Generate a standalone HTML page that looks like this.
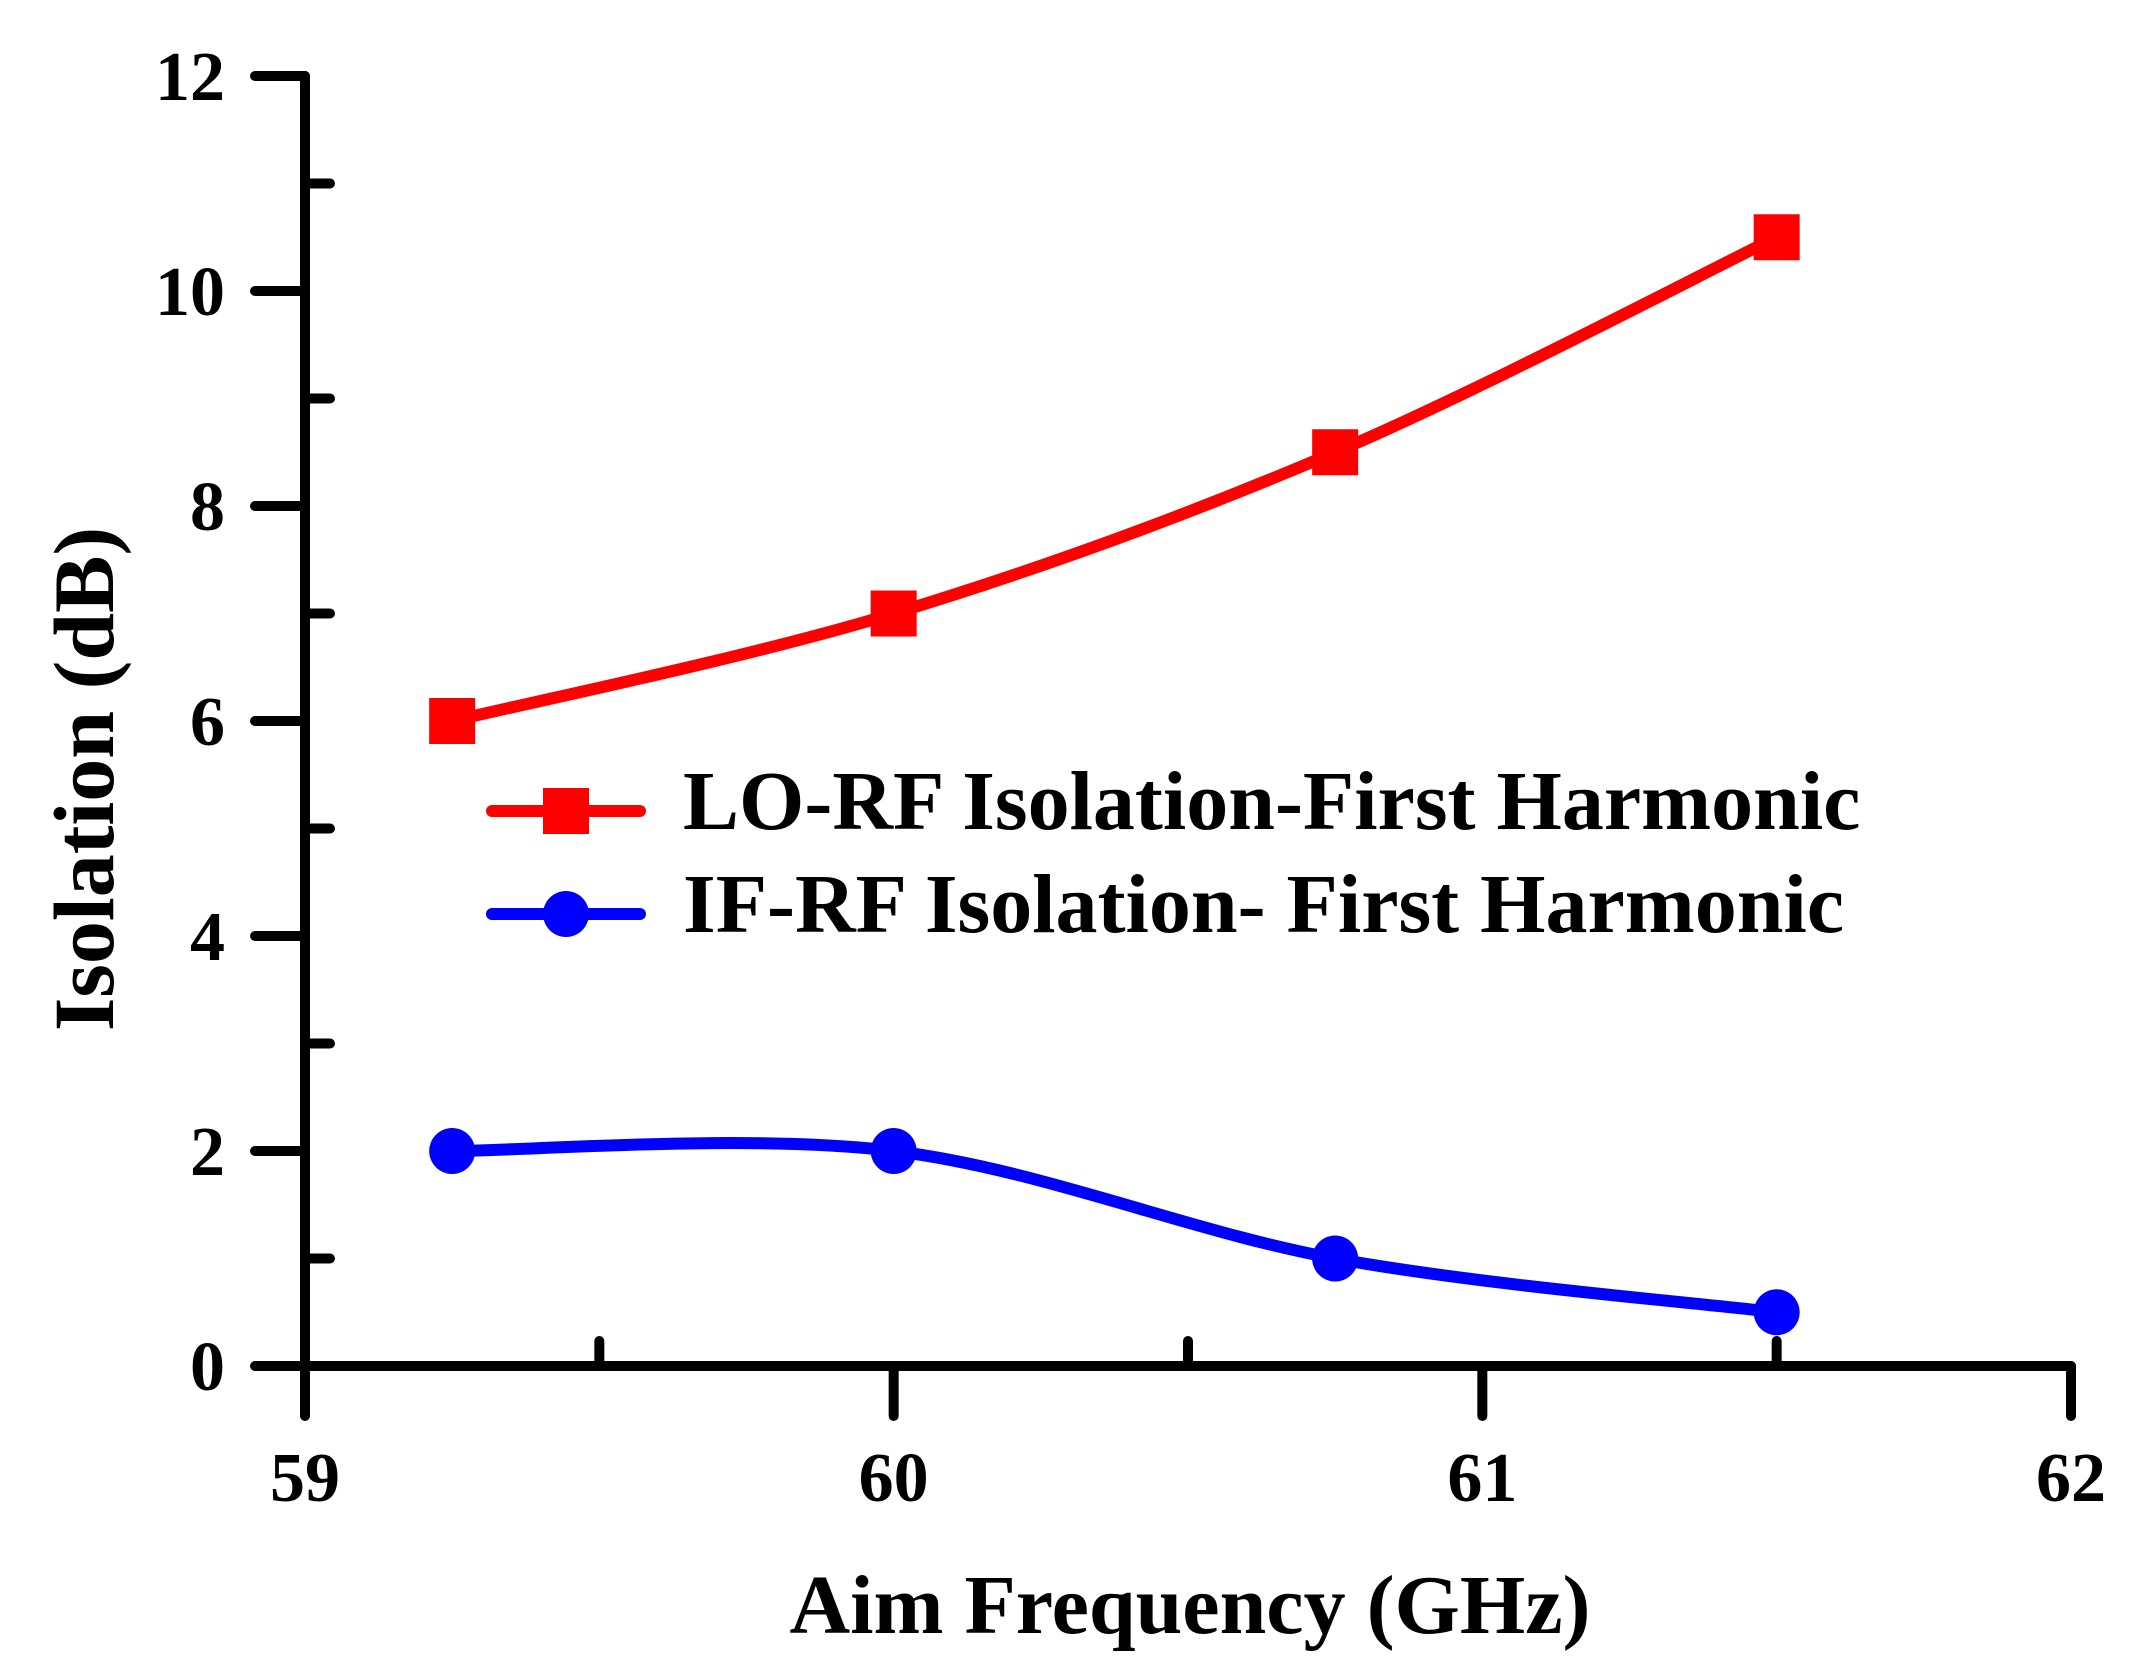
<!DOCTYPE html>
<html><head><meta charset="utf-8"><style>
html,body{margin:0;padding:0;background:#fff}
svg{display:block;font-family:"Liberation Serif",serif;font-weight:bold}
</style></head><body>
<svg id="chart" width="2134" height="1672" viewBox="0 0 2134 1672"></svg>
<script>
const categories=[59.25,60,60.75,61.5];
const loValues=[6,7,8.5,10.5];
const ifValues=[2,2,1,0.5];
const xTicks=[59,60,61,62];
const yTicks=[0,2,4,6,8,10,12];
const seriesNames=["LO-RF Isolation-First Harmonic","IF-RF Isolation- First Harmonic"];
const NS="http://www.w3.org/2000/svg";
const svg=document.getElementById('chart');
const X0=305,X1=2071,Y0=1366,Y1=76;
const xs=v=>X0+(v-59)/(62-59)*(X1-X0);
const ys=v=>Y0-(v/12)*(Y0-Y1);
function mk(t,a,p){const e=document.createElementNS(NS,t);for(const k in a)e.setAttribute(k,a[k]);(p||svg).appendChild(e);return e;}
const axes=mk('g',{});


mk('line',{x1:X0,y1:Y0,x2:X1,y2:Y0,stroke:'#000','stroke-width':10,'stroke-linecap':'round'},axes);
mk('line',{x1:X0,y1:Y0,x2:X0,y2:Y1,stroke:'#000','stroke-width':10,'stroke-linecap':'round'},axes);
xTicks.forEach(v=>{
 mk('line',{x1:xs(v),y1:Y0,x2:xs(v),y2:Y0+50,stroke:'#000','stroke-width':10,'stroke-linecap':'round'},axes);
 const t=mk('text',{x:xs(v),y:Y0+135,'text-anchor':'middle','font-size':70},axes);t.textContent=v;
 
 
 if(v<62) mk('line',{x1:xs(v+0.5),y1:Y0,x2:xs(v+0.5),y2:Y0-25,stroke:'#000','stroke-width':10,'stroke-linecap':'round'},axes);
});
yTicks.forEach(v=>{
 mk('line',{x1:X0,y1:ys(v),x2:X0-50,y2:ys(v),stroke:'#000','stroke-width':10,'stroke-linecap':'round'},axes);
 const t=mk('text',{x:X0-80,y:ys(v)+24,'text-anchor':'end','font-size':70},axes);t.textContent=v;
 
 
 if(v<12) mk('line',{x1:X0,y1:ys(v+1),x2:X0+25,y2:ys(v+1),stroke:'#000','stroke-width':10,'stroke-linecap':'round'},axes);
});
const xt=mk('text',{x:1190,y:1633,'text-anchor':'middle','font-size':84});xt.textContent='Aim Frequency (GHz)';


const yt=mk('text',{x:0,y:0,'text-anchor':'middle','font-size':86,transform:'translate(113,779) rotate(-90)'});yt.textContent='Isolation (dB)';


function spline(vals){
 const p=categories.map((c,i)=>[xs(c),ys(vals[i])]);
 let d='M'+p[0][0]+','+p[0][1];
 for(let i=0;i<p.length-1;i++){
  const a=p[i-1]||p[i],b=p[i],c=p[i+1],e=p[i+2]||c;
  d+=` C${b[0]+(c[0]-a[0])/6},${b[1]+(c[1]-a[1])/6} ${c[0]-(e[0]-b[0])/6},${c[1]-(e[1]-b[1])/6} ${c[0]},${c[1]}`;
 }
 return d;
}
function series(vals,color,shape,name){
 const g=mk('g',{});
 
 
 mk('path',{d:spline(vals),fill:'none',stroke:color,'stroke-width':12},g);
 categories.forEach((c,i)=>{
  let m;
  if(shape==='sq') m=mk('rect',{x:xs(c)-23,y:ys(vals[i])-23,width:46,height:46,fill:color},g);
  else m=mk('circle',{cx:xs(c),cy:ys(vals[i]),r:23,fill:color},g);
  
  
 });
}
series(loValues,'#ff0000','sq','lo-rf-series');
series(ifValues,'#0000ff','ci','if-rf-series');
const lg=mk('g',{});


[[811,'#ff0000','sq'],[914,'#0000ff','ci']].forEach((r,i)=>{
 mk('line',{x1:492,y1:r[0],x2:640,y2:r[0],stroke:r[1],'stroke-width':12,'stroke-linecap':'round'},lg);
 if(r[2]==='sq') mk('rect',{x:543,y:r[0]-23,width:46,height:46,fill:r[1]},lg);
 else mk('circle',{cx:566,cy:r[0],r:23,fill:r[1]},lg);
 const t=mk('text',{x:683,y:r[0]+18,'font-size':84},lg);t.textContent=seriesNames[i];
 
 
});
</script>
</body></html>
